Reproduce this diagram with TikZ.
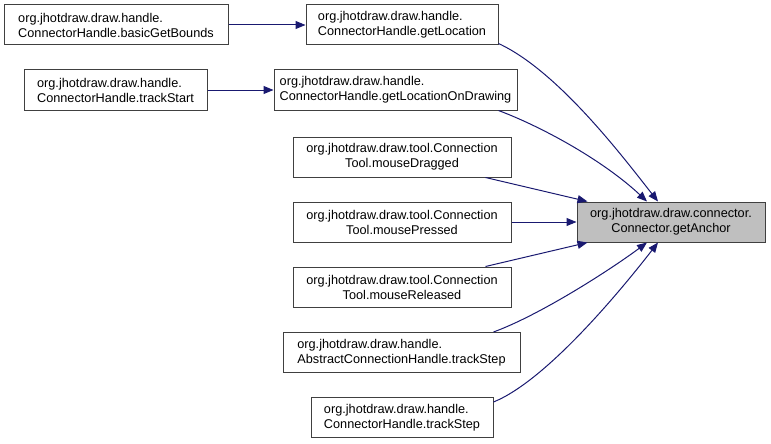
\documentclass[tikz,border=0pt]{standalone}
\usepackage{fontspec}
\setmainfont{Liberation Sans}
\usetikzlibrary{arrows.meta}
\definecolor{edgecol}{HTML}{191970}
\definecolor{boxline}{HTML}{404040}
\definecolor{targetfill}{HTML}{BFBFBF}
\begin{document}
\begin{tikzpicture}[x=1pt,y=-1pt,
  box/.style={draw=boxline, line width=1pt, inner ysep=0pt, inner xsep=0pt, minimum height=40pt,
    font=\fontsize{12.7}{15}\selectfont},
  lbox/.style={box, align=left},
  cbox/.style={box, align=center},
  edge/.style={draw=edgecol, line width=1pt, -{Triangle[length=10pt,width=8pt]}}]
\useasboundingbox (0,0) rectangle (771,444);

\node[lbox, minimum width=224pt] (b1) at (116,25) {org.jhotdraw.draw.handle.\\ConnectorHandle.basicGetBounds};
\node[lbox, minimum width=192pt] (b2) at (402,25) {org.jhotdraw.draw.handle.\\ConnectorHandle.getLocation};
\node[lbox, minimum width=183pt] (b3) at (115.5,90) {org.jhotdraw.draw.handle.\\ConnectorHandle.trackStart};
\node[lbox, minimum width=243pt] (b4) at (395.5,90) {org.jhotdraw.draw.handle.\\ConnectorHandle.getLocationOnDrawing};
\node[cbox, minimum width=218pt] (b5) at (402,157) {org.jhotdraw.draw.tool.Connection\\Tool.mouseDragged};
\node[cbox, minimum width=218pt] (b6) at (402,222) {org.jhotdraw.draw.tool.Connection\\Tool.mousePressed};
\node[cbox, minimum width=218pt] (b7) at (402,287) {org.jhotdraw.draw.tool.Connection\\Tool.mouseReleased};
\node[lbox, minimum width=237pt] (b8) at (401.5,352.5) {org.jhotdraw.draw.handle.\\AbstractConnectionHandle.trackStep};
\node[lbox, minimum width=182pt] (b9) at (402,417.5) {org.jhotdraw.draw.handle.\\ConnectorHandle.trackStep};
\node[cbox, minimum width=188pt, fill=targetfill] (T) at (671,222) {org.jhotdraw.draw.connector.\\Connector.getAnchor};

\draw[edge] (b1) -- (b2);
\draw[edge] (b3) -- (b4);
\draw[edge] (b6) -- (T);
\draw[edge] ([xshift=-26pt]b5.south east) -- ([xshift=11pt]T.north west);
\draw[edge] ([xshift=-26pt]b7.north east) -- ([xshift=11pt]T.south west);
\draw[edge] ([yshift=2pt]b2.south east) .. controls (558,71) and (623,157) .. ([xshift=-13pt]T.north);
\draw[edge] ([xshift=-19pt]b4.south east) .. controls (545,128) and (605,162) .. ([xshift=-24pt]T.north);
\draw[edge] ([xshift=-27pt]b8.north east) .. controls (540,315) and (610,270) .. ([xshift=-24pt]T.south);
\draw[edge] ([yshift=-5pt]b9.north east) .. controls (548,380) and (625,285) .. ([xshift=-13pt]T.south);
\end{tikzpicture}
\end{document}
